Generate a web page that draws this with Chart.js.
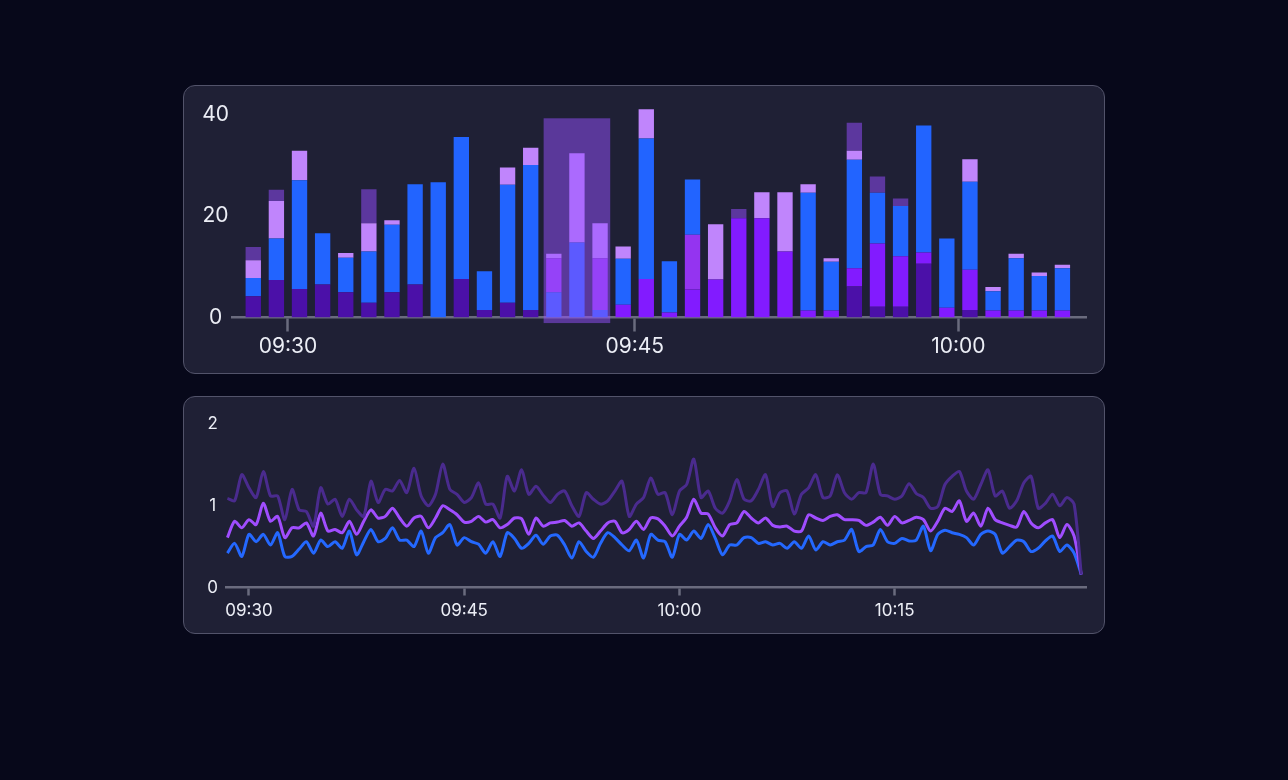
<!DOCTYPE html>
<html>
<head>
<meta charset="utf-8">
<script src="https://cdn.jsdelivr.net/npm/chart.js@4.4.1/dist/chart.umd.min.js"></script>
<style>
  html, body { margin:0; padding:0; background:#07081a; width:1288px; height:780px; overflow:hidden; font-family:Inter, sans-serif; }
  .panel { position:absolute; box-sizing:border-box; background:#1f2035; border:1.5px solid #52536a; border-radius:12px; }
  .cv { position:absolute; }
</style>
</head>
<body>
<div class="panel" style="left:183px;top:85px;width:922px;height:289px"></div>
<div class="panel" style="left:183px;top:396px;width:922px;height:238px"></div>
<div class="cv" style="left:183px;top:85px;width:922px;height:289px"><canvas id="bars"></canvas></div>
<div class="cv" style="left:183px;top:396px;width:922px;height:238px"><canvas id="lines"></canvas></div>
<script>
// ---------- top chart: stacked bars (one bar per slot) ----------
const barYTicks = [0, 20, 40];
const barTickLabels = ['09:30', '09:45', '10:00'];
const barTickSlots = [1.5, 16.5, 30.5];          // slot positions (between bars) of the time ticks
const barDark     = [4.2,7.4,5.6,6.5,5.0,2.9,5.0,6.5,0,7.6,1.5,2.9,1.5,0,0,0,0,0,0,0,0,0,0,0,0,0,6.1,2.1,2.1,10.6,0,1.5,0,0,0,0];
const barVivid    = [0,0,0,0,0,0,0,0,0,0,0,0,0,0,0,0,2.5,7.6,1.0,5.5,7.5,19.6,19.6,13.0,1.4,1.4,3.6,12.5,10.0,2.2,1.9,7.9,1.4,1.4,1.4,1.4];
const barBlueBase = [0,0,0,0,0,0,0,0,0,0,0,0,0,5.0,0,1.5,0,0,0,0,0,0,0,0,0,0,0,0,0,0,0,0,0,0,0,0];
const barMedium   = [0,0,0,0,0,0,0,0,0,0,0,0,0,6.7,0,10.2,0,0,0,10.8,0,0,0,0,0,0,0,0,0,0,0,0,0,0,0,0];
const barBlue     = [3.6,8.2,21.5,10.1,6.8,10.1,13.3,19.8,26.7,28.0,7.6,23.3,28.6,0,14.8,0,9.1,27.7,10.1,10.9,0,0,0,0,23.2,9.6,21.4,10.0,9.9,25.1,13.7,17.4,3.8,10.3,6.8,8.3];
const barLavender = [3.5,7.4,5.8,0,0.9,5.6,0.9,0,0,0,0,3.4,3.4,0.9,17.6,6.9,2.4,5.8,0,0,10.9,0,5.1,11.7,1.7,0.7,1.8,0,0,0,0,4.4,0.8,0.9,0.7,0.7];
const barMuted    = [2.6,2.2,0,0,0,6.7,0,0,0,0,0,0,0,0,0,0,0,0,0,0,0,1.8,0,0,0,0,5.5,3.2,1.5,0,0,0,0,0,0,0,0,0];
const selection = { first: 13, last: 15, low: -1.1, high: 39.3 };

// ---------- bottom chart: lines ----------
const lineStart = '09:28:30';
const lineStepSeconds = 30;
const lineTickLabels = ['09:30', '09:45', '10:00', '10:15'];
const lineYTicks = [0, 1, 2];
const lineDark = [
 1.09,1.06,1.38,1.22,1.10,1.42,1.12,1.12,0.83,1.20,0.95,0.93,0.75,1.22,1.02,1.08,0.87,1.08,0.95,0.87,1.30,1.04,1.20,1.18,1.31,1.16,1.46,1.12,1.00,1.14,
 1.51,1.20,1.14,1.04,1.10,1.28,1.02,1.02,0.85,1.36,1.18,1.44,1.14,1.24,1.13,1.04,1.14,1.18,1.00,0.87,1.16,1.08,1.02,1.06,1.18,1.30,0.87,1.02,1.10,1.34,
 1.14,1.16,0.89,1.18,1.26,1.57,1.10,1.18,0.97,0.91,1.06,1.32,1.08,1.06,1.20,1.38,0.99,1.16,1.18,0.90,1.14,1.22,1.38,1.10,1.12,1.38,1.16,1.08,1.16,1.16,
 1.51,1.14,1.12,1.08,1.12,1.27,1.15,1.10,0.97,0.99,1.26,1.36,1.42,1.18,1.08,1.26,1.44,1.12,1.18,0.97,1.06,1.28,1.36,0.97,1.03,1.14,1.00,1.10,1.02,0.16];
const linePurple = [
 0.61,0.81,0.73,0.83,0.77,1.03,0.81,0.87,0.61,0.73,0.73,0.79,0.63,0.91,0.69,0.71,0.67,0.81,0.65,0.81,0.95,0.85,0.87,0.97,0.85,0.75,0.85,0.87,0.73,0.85,
 1.00,0.95,0.89,0.80,0.81,0.87,0.80,0.83,0.73,0.77,0.85,0.84,0.65,0.85,0.75,0.79,0.80,0.82,0.75,0.79,0.69,0.60,0.69,0.79,0.81,0.67,0.71,0.81,0.71,0.85,
 0.84,0.75,0.63,0.75,0.86,1.08,0.91,0.90,0.73,0.63,0.77,0.79,0.93,0.85,0.79,0.85,0.76,0.74,0.75,0.69,0.69,0.89,0.85,0.82,0.87,0.89,0.83,0.83,0.82,0.76,
 0.80,0.86,0.76,0.87,0.79,0.82,0.86,0.83,0.69,0.81,0.97,0.93,1.06,0.81,0.91,0.75,0.97,0.83,0.79,0.76,0.74,0.93,0.79,0.73,0.79,0.83,0.61,0.77,0.63,0.16];
const lineBlue = [
 0.42,0.54,0.38,0.65,0.56,0.65,0.52,0.67,0.38,0.38,0.47,0.56,0.42,0.58,0.50,0.56,0.48,0.69,0.40,0.56,0.71,0.56,0.60,0.73,0.58,0.58,0.50,0.69,0.42,0.61,
 0.67,0.77,0.52,0.61,0.56,0.53,0.42,0.56,0.38,0.67,0.60,0.48,0.54,0.64,0.53,0.63,0.64,0.52,0.36,0.56,0.44,0.37,0.54,0.67,0.61,0.52,0.45,0.58,0.36,0.65,
 0.58,0.56,0.37,0.65,0.58,0.69,0.60,0.77,0.60,0.40,0.52,0.52,0.61,0.61,0.54,0.56,0.52,0.54,0.48,0.56,0.48,0.63,0.46,0.56,0.52,0.56,0.58,0.71,0.44,0.50,
 0.52,0.71,0.56,0.54,0.60,0.57,0.58,0.75,0.45,0.65,0.70,0.67,0.65,0.61,0.52,0.65,0.69,0.65,0.42,0.50,0.58,0.56,0.44,0.48,0.57,0.63,0.44,0.52,0.42,0.16];

// ---------- helpers ----------
function toMinutes(t) { const p = t.split(':').map(Number); return (p[0]*60 + p[1] + (p[2]||0)/60) - (9*60 + 30); }
const barSlots = barBlue.map((_, i) => i);
const lineTimes = lineBlue.map((_, i) => toMinutes(lineStart) + i * lineStepSeconds / 60);
const lineTickValues = lineTickLabels.map(toMinutes);

Chart.defaults.font.family = 'Inter, sans-serif';
const axisGray = '#6a6b7e';
const labelColor = '#eceef6';

const selectionPlugin = {
  id: 'selection',
  afterDraw(chart) {
    const { ctx, scales: { x, y } } = chart;
    const x0 = x.getPixelForValue(selection.first - 0.44);
    const x1 = x.getPixelForValue(selection.last + 0.44);
    const y0 = y.getPixelForValue(selection.high);
    const y1 = y.getPixelForValue(selection.low);
    ctx.save();
    ctx.fillStyle = 'rgba(150, 80, 255, 0.5)';
    ctx.fillRect(x0, y0, x1 - x0, y1 - y0);
    ctx.restore();
  }
};

function barSet(data, color) {
  return { data, backgroundColor: color, borderWidth: 0, categoryPercentage: 0.8, barPercentage: 0.83 };
}

new Chart(document.getElementById('bars'), {
  type: 'bar',
  data: {
    labels: barSlots,
    datasets: [
      barSet(barDark, '#4b10a8'),
      barSet(barVivid, '#821bff'),
      barSet(barBlueBase, '#2264ff'),
      barSet(barMedium, '#9434f0'),
      barSet(barBlue, '#2264ff'),
      barSet(barLavender, '#c085fc'),
      barSet(barMuted, '#5c379e')
    ]
  },
  options: {
    animation: false, responsive: true, maintainAspectRatio: false,
    layout: { padding: { left: 0, right: 19, top: 19.6, bottom: 0 } },
    plugins: { legend: { display: false }, tooltip: { enabled: false } },
    scales: {
      x: {
        type: 'linear', stacked: true, min: -0.92, max: 36.02, offset: false, z: 1,
        grid: { display: true, offset: false, drawOnChartArea: false, drawTicks: true, tickLength: 14, tickWidth: 2.5, color: axisGray },
        border: { display: true, color: axisGray, width: 2.5 },
        afterBuildTicks: s => { s.ticks = barTickSlots.map(v => ({ value: v })); },
        afterFit: s => { s.height = 56.5; },
        ticks: { autoSkip: false, maxRotation: 0, padding: 3, color: labelColor, font: { size: 21 },
                 callback: (v, i) => barTickLabels[i] }
      },
      y: {
        stacked: true, min: 0, max: 42,
        grid: { display: false, drawTicks: false },
        border: { display: false },
        afterBuildTicks: s => { s.ticks = barYTicks.map(v => ({ value: v })); },
        afterFit: s => { s.width = 49; },
        ticks: { crossAlign: 'center', padding: 3, color: labelColor, font: { size: 21 } }
      }
    }
  },
  plugins: [selectionPlugin]
});

function lineSet(data, color) {
  return { data, borderColor: color, borderWidth: 3, pointRadius: 0, tension: 0.25, fill: false };
}

new Chart(document.getElementById('lines'), {
  type: 'line',
  data: {
    labels: lineTimes,
    datasets: [
      lineSet(lineDark, '#4a2b8e'),
      lineSet(linePurple, '#a04dff'),
      lineSet(lineBlue, '#2468ff')
    ]
  },
  options: {
    animation: false, responsive: true, maintainAspectRatio: false,
    layout: { padding: { left: 0, right: 19, top: 28, bottom: 0 } },
    plugins: { legend: { display: false }, tooltip: { enabled: false } },
    scales: {
      x: {
        type: 'linear', min: -1.6, max: 58.33, z: 1,
        grid: { display: true, offset: false, drawOnChartArea: false, drawTicks: true, tickLength: 8, tickWidth: 2.5, color: axisGray },
        border: { display: true, color: axisGray, width: 2.5 },
        afterBuildTicks: s => { s.ticks = lineTickValues.map(v => ({ value: v })); },
        afterFit: s => { s.height = 46.5; },
        ticks: { autoSkip: false, maxRotation: 0, padding: 5, color: labelColor, font: { size: 17 },
                 callback: (v, i) => lineTickLabels[i] }
      },
      y: {
        min: 0, max: 2,
        grid: { display: false, drawTicks: false },
        border: { display: false },
        afterBuildTicks: s => { s.ticks = lineYTicks.map(v => ({ value: v })); },
        afterFit: s => { s.width = 43; },
        ticks: { crossAlign: 'center', padding: 8, color: labelColor, font: { size: 17 } }
      }
    }
  }
});
</script>
</body>
</html>
